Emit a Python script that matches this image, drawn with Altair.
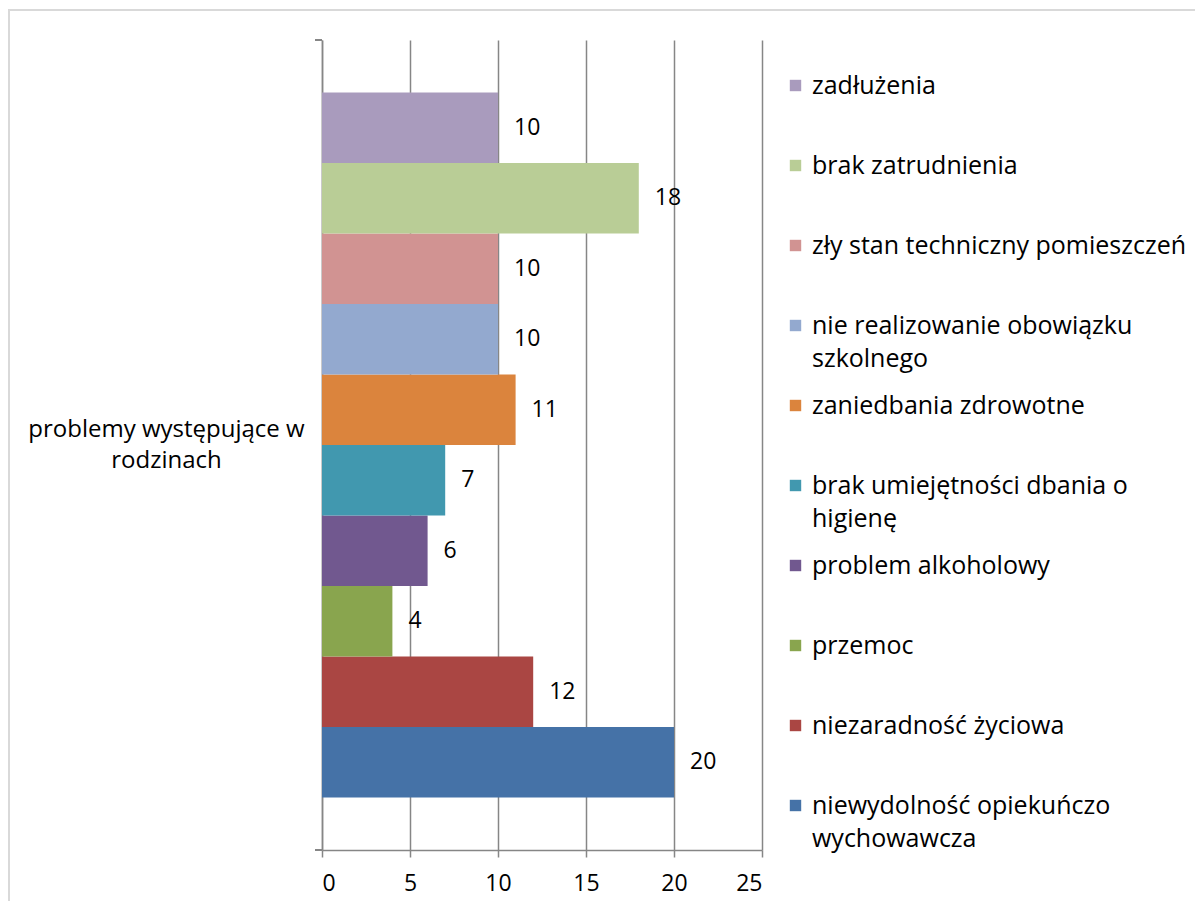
import json
import altair as alt
import pandas as pd

category = "problemy występujące w rodzinach"
category_lines = ["problemy występujące w", "rodzinach"]

series = [
    "niewydolność opiekuńczo wychowawcza",
    "niezaradność życiowa",
    "przemoc",
    "problem alkoholowy",
    "brak umiejętności dbania o higienę",
    "zaniedbania zdrowotne",
    "nie realizowanie obowiązku szkolnego",
    "zły stan techniczny pomieszczeń",
    "brak zatrudnienia",
    "zadłużenia",
]
values = [20, 12, 4, 6, 7, 11, 10, 10, 18, 10]
colors = [
    "#4572A7", "#AA4643", "#89A54E", "#71588F", "#4198AF",
    "#DB843D", "#93A9CF", "#D19392", "#B9CD96", "#A99BBD",
]
wrapped = {
    "niewydolność opiekuńczo wychowawcza": ["niewydolność opiekuńczo", "wychowawcza"],
    "brak umiejętności dbania o higienę": ["brak umiejętności dbania o", "higienę"],
    "nie realizowanie obowiązku szkolnego": ["nie realizowanie obowiązku", "szkolnego"],
}
x_ticks = [0, 5, 10, 15, 20, 25]

df = pd.DataFrame({"kategoria": category, "seria": series, "wartosc": values})

order = list(reversed(series))
legend_expr = " : ".join(
    f"datum.label == {json.dumps(k)} ? {json.dumps(v, ensure_ascii=False)}" for k, v in wrapped.items()
) + " : datum.label"
cat_expr = f"datum.label == {json.dumps(category)} ? {json.dumps(category_lines, ensure_ascii=False)} : datum.label"

FONT = "Open Sans"
FS = 23
LFS = 25
GRAY = "#868686"

W, H = 440, 810

y_enc = alt.Y(
    "kategoria:N",
    scale=alt.Scale(paddingInner=0, paddingOuter=0.0745),
    axis=alt.Axis(
        title=None, ticks=False, domain=True, labelAlign="center", labelPadding=156,
        labelBaseline="middle", labelExpr=cat_expr, labelLineHeight=31, labelOffset=-15,
        labelLimit=600, labelFontSize=24,
    ),
)
yoff = alt.YOffset("seria:N", sort=order, scale=alt.Scale(paddingInner=0, paddingOuter=0))
x_enc = alt.X(
    "wartosc:Q",
    scale=alt.Scale(domain=[0, 25], nice=False),
    axis=alt.Axis(
        title=None, values=x_ticks, grid=True, tickSize=7, labelPadding=15,
        gridColor=GRAY, gridWidth=1.5, domainColor=GRAY, tickColor=GRAY, domainWidth=1.5, tickWidth=1.5,
    ),
)

base = alt.Chart(df)

border = base.mark_rect(filled=False, stroke="#d9d9d9", strokeWidth=1.5).encode(
    x=alt.value(-313), x2=alt.value(900), y=alt.value(-30), y2=alt.value(900)
)

bars = base.mark_bar().encode(
    x=x_enc,
    y=y_enc,
    yOffset=yoff,
    color=alt.Color(
        "seria:N",
        scale=alt.Scale(domain=order, range=list(reversed(colors))),
        legend=alt.Legend(
            title=None, orient="none", legendX=461, legendY=33,
            symbolType="square", symbolSize=130, symbolStrokeWidth=0,
            labelFont=FONT, labelFontSize=LFS, labelColor="black", labelOffset=4,
            labelExpr=legend_expr, labelLimit=500, rowPadding=21, gridAlign="all",
        ),
    ),
)

labels = base.mark_text(align="left", baseline="middle", dx=16, font=FONT, fontSize=FS, color="black").encode(
    x="wartosc:Q",
    y=alt.Y("kategoria:N"),
    yOffset=yoff,
    text="wartosc:Q",
)

edge_ticks = base.mark_rule(color=GRAY, strokeWidth=1.5).encode(
    x=alt.value(-7), x2=alt.value(0), y=alt.value(0)
) + base.mark_rule(color=GRAY, strokeWidth=1.5).encode(
    x=alt.value(-7), x2=alt.value(0), y=alt.value(H)
)

chart = (
    alt.layer(border, bars, labels, edge_ticks)
    .properties(
        width=W, height=H,
        autosize=alt.AutoSizeParams(type="none"),
        padding={"left": 314, "top": 32, "right": 433, "bottom": 51},
    )
    .configure(style={"guide-label": {"lineHeight": 33}})
    .configure_view(stroke=None)
    .configure_axis(labelFont=FONT, labelFontSize=FS, labelColor="black", domainColor=GRAY, domainWidth=1.5)
)

chart.save("out.html", embed_options={"renderer": "svg", "actions": False})
